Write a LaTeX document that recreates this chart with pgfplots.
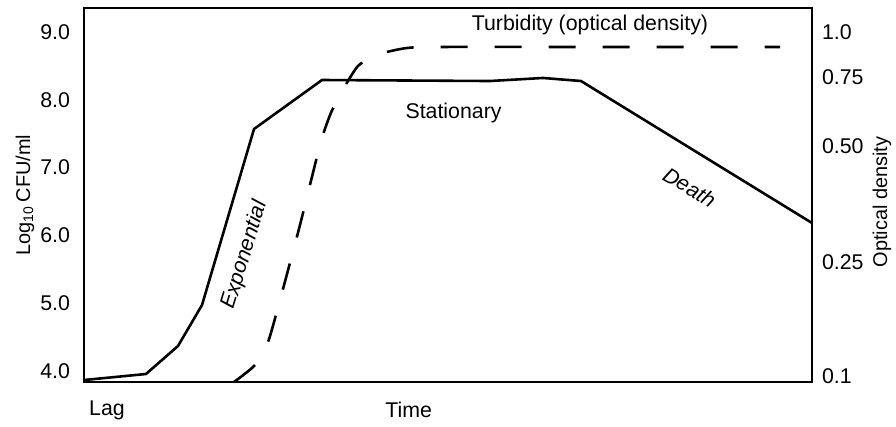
\documentclass[border=0pt]{standalone}
\usepackage{fontspec}
\setmainfont{Liberation Sans}
\usepackage{pgfplots}
\pgfplotsset{compat=1.18}
\newcommand\fs{\fontsize{10.7}{12.5}\selectfont}
\begin{document}
\begin{tikzpicture}
\pgfplotsset{
  base/.style={
    scale only axis, width=364bp, height=187bp,
    xmin=84, xmax=812, ymin=3.838, ymax=9.354,
    xtick=\empty,
    major tick length=0pt,
    axis line style={line width=0.9pt},
    tick label style={font=\fs, inner sep=0pt, outer sep=0pt},
    label style={font=\fs},
    clip=false,
  }
}
\begin{axis}[base,
  ytick={4,5,6,7,8,9},
  yticklabels={4.0,5.0,6.0,7.0,8.0,9.0},
  yticklabel style={xshift=-7bp},
  ylabel={Log\textsubscript{10}\,CFU/ml},
  every axis y label/.style={at={(axis description cs:-0.081,0.5)}, rotate=90, anchor=center},
]
\addplot[black, line width=1.3pt, line join=round] coordinates {
 (84,3.867) (146,3.956) (178,4.369) (202,4.973) (254,7.569) (322,8.292)
 (490,8.277) (543,8.322) (581,8.277) (812,6.183)
};
\addplot[black, line width=1.3pt, dash pattern=on 13.5bp off 13.5bp, smooth, tension=0.4] coordinates {
 (234,3.838) (255,4.088) (268,4.427) (280,5.047) (300,6.154) (320,7.333)
 (330,7.774) (340,8.071) (358,8.499) (380,8.676) (407,8.764) (440,8.779) (600,8.779) (780,8.779)
};
\coordinate (BL) at (rel axis cs:0,0);
\coordinate (TR) at (rel axis cs:1,1);
\node[font=\fs] at (axis description cs:0.0316,-0.0749) {Lag};
\node[font=\fs] at (axis description cs:0.446,-0.0749) {Time};
\node[font=\fs] at (axis description cs:0.695,0.9545) {Turbidity (optical density)};
\node[font=\fs] at (axis description cs:0.5076,0.719) {Stationary};
\node[font=\fs\itshape, rotate=73] at (axis description cs:0.221,0.3396) {Exponential};
\node[font=\fs\itshape, rotate=-31] at (axis description cs:0.832,0.521) {Death};
\end{axis}
\begin{axis}[base,
  axis x line=none,
  axis y line*=right,
  ytick={3.92,5.61,7.31,8.34,9.0},
  yticklabels={0.1,0.25,0.50,0.75,1.0},
  yticklabel style={xshift=5bp},
  ylabel={Optical density},
  every axis y label/.style={at={(axis description cs:1.096,0.481)}, rotate=90, anchor=center},
]
\end{axis}
\pgfresetboundingbox
\path ([shift={(-42bp,-22.5bp)}]BL) rectangle ([shift={(42bp,4bp)}]TR);
\end{tikzpicture}
\end{document}
